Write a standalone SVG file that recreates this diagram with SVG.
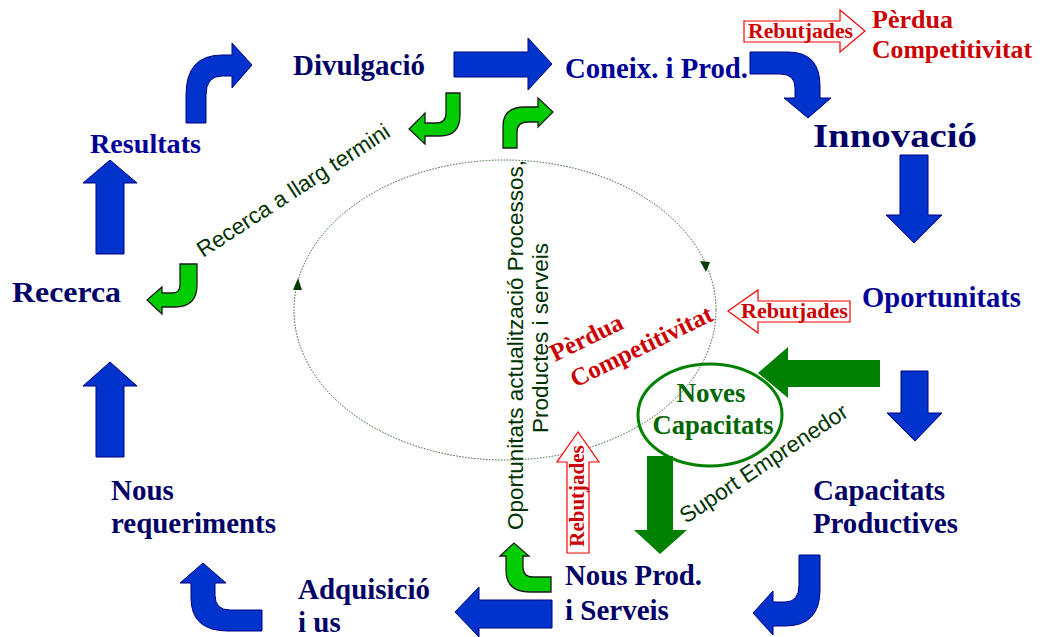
<svg xmlns="http://www.w3.org/2000/svg" width="1043" height="637" viewBox="0 0 1043 637">
<defs>
<style>
.lbl{font-family:"Liberation Serif","Times New Roman",serif;font-weight:bold;font-size:29px;fill:#000066}
.lblb{fill:#000099}
.red{font-family:"Liberation Serif","Times New Roman",serif;font-weight:bold;fill:#cc0000}
.gtx{font-family:"Liberation Sans",Arial,sans-serif;fill:#003300;font-size:22.5px}
.barrow{fill:#0033cc;stroke:#000080;stroke-width:1}
.garrow{fill:#00cc00;stroke:#1a1a1a;stroke-width:1.3}
.bgarrow{fill:#008000;stroke:none}
.hollow{fill:#ffffff;stroke:#ff0000;stroke-width:1.2}
.loop{fill:none;stroke:#2a5a2a;stroke-width:1;stroke-dasharray:1.5 1.5}
</style>
</defs>
<rect width="1043" height="637" fill="#ffffff"/>

<g id="connectors">
<ellipse class="loop" cx="505" cy="310" rx="211" ry="150"/>
<path d="M298,278 L293,290 L302,290 Z" fill="#0a3a0a"/>
<path d="M706,272 L700,261 L710,262 Z" fill="#0a3a0a"/>

<path class="barrow" d="M186,123 L186,95 Q186,55 222,55 L232,55 L232,43 L252,65 L232,88 L232,76 L222,76 Q206,76 206,95 L206,123 Z"/>
<path class="barrow" d="M454,52 L528,52 L528,38 L552,64 L528,90 L528,77 L454,77 Z"/>
<path class="barrow" d="M750,52 L788,52 Q820,52 820,86 L820,98 L831,98 L808,118 L784,98 L795,98 L795,88 Q795,74 780,74 L750,74 Z"/>
<path class="barrow" d="M900,155 L928,155 L928,215 L942,215 L914,243 L886,215 L900,215 Z"/>
<path class="barrow" d="M901,371 L928,371 L928,413 L942,413 L915,441 L887,413 L901,413 Z"/>
<path class="barrow" d="M799,555 L820,555 L820,590 Q820,626 785,626 L773,626 L773,635 L753,613 L773,591 L773,602 L785,602 Q799,602 799,585 Z"/>
<path class="barrow" d="M552,600 L479,600 L479,587 L455,612 L479,637 L479,628 L552,628 Z"/>
<path class="barrow" d="M262,610 L230,610 Q215,610 215,595 L215,583 L226,583 L203,563 L180,583 L191,583 L191,598 Q191,631 228,631 L262,631 Z"/>
<path class="barrow" d="M96,457 L124,457 L124,386 L137,386 L110,362 L83,386 L96,386 Z"/>
<path class="barrow" d="M96,254 L124,254 L124,183 L137,183 L110,160 L83,183 L96,183 Z"/>

<path class="garrow" d="M446,93 L460,93 L460,115 Q460,136 440,136 L425,136 L425,144 L409,129 L425,113 L425,123 L436,123 Q446,123 446,113 Z"/>
<path class="garrow" d="M503,148 L503,126 Q503,107 525,107 L538,107 L538,98 L553,112 L538,127 L538,122 L528,122 Q517,122 517,132 L517,148 Z"/>
<path class="garrow" d="M180,264 L197,264 L197,285 Q197,307 175,307 L162,307 L162,314 L147,300 L162,287 L162,293 L172,293 Q180,293 180,285 Z"/>
<path class="garrow" d="M551,577 L533,577 Q523,577 523,567 L523,556 L529,556 L514,543 L500,556 L506,556 L506,570 Q506,592 530,592 L551,592 Z"/>

<path class="bgarrow" d="M880,360 L788,360 L788,347 L758,373 L788,398 L788,387 L880,387 Z"/>
<path class="bgarrow" d="M647,456 L673,456 L673,530 L687,530 L660,554 L634,530 L647,530 Z"/>

<path class="hollow" d="M744,21 L840,21 L840,10 L865,31 L840,52 L840,42 L744,42 Z"/>
<path class="hollow" d="M850,301 L758,301 L758,290 L728,311 L758,333 L758,322 L850,322 Z"/>
<path class="hollow" d="M567,553 L589,553 L589,462 L599,462 L578,432 L557,462 L567,462 Z"/>
</g>

<g id="node-divulgacio"><text class="lbl" x="293" y="75" textLength="132" lengthAdjust="spacingAndGlyphs">Divulgació</text></g>
<g id="node-coneix"><text class="lbl lblb" x="565" y="78" textLength="183" lengthAdjust="spacingAndGlyphs">Coneix. i Prod.</text></g>
<g id="node-innovacio"><text class="lbl" x="813" y="147" style="font-size:33px" textLength="164" lengthAdjust="spacingAndGlyphs">Innovació</text></g>
<g id="node-resultats"><text class="lbl lblb" x="90" y="153" style="font-size:27px" textLength="111" lengthAdjust="spacingAndGlyphs">Resultats</text></g>
<g id="node-recerca"><text class="lbl" x="12" y="302" style="font-size:30px" textLength="109" lengthAdjust="spacingAndGlyphs">Recerca</text></g>
<g id="node-oportunitats"><text class="lbl lblb" x="862" y="307" textLength="159" lengthAdjust="spacingAndGlyphs">Oportunitats</text></g>
<g id="node-capacitats"><text class="lbl" x="813" y="500">Capacitats</text><text class="lbl" x="813" y="533" textLength="145" lengthAdjust="spacingAndGlyphs">Productives</text></g>
<g id="node-requeriments"><text class="lbl" x="111" y="500">Nous</text><text class="lbl" x="111" y="533" textLength="165" lengthAdjust="spacingAndGlyphs">requeriments</text></g>
<g id="node-adquisicio"><text class="lbl" x="298" y="599" textLength="132" lengthAdjust="spacingAndGlyphs">Adquisició</text><text class="lbl" x="298" y="632">i us</text></g>
<g id="node-nousprod"><text class="lbl" x="565" y="585" textLength="137" lengthAdjust="spacingAndGlyphs">Nous Prod.</text><text class="lbl" x="565" y="620">i Serveis</text></g>
<g id="node-noves">
<ellipse cx="710" cy="415" rx="72" ry="51" fill="none" stroke="#008000" stroke-width="3"/>
<text class="lbl" x="711" y="402" text-anchor="middle" style="font-size:27px;fill:#006600">Noves</text>
<text class="lbl" x="713" y="434" text-anchor="middle" style="font-size:27px;fill:#006600" textLength="121" lengthAdjust="spacingAndGlyphs">Capacitats</text>
</g>
<g id="node-perdua-top"><text class="red" x="872" y="28" style="font-size:26px">Pèrdua</text><text class="red" x="872" y="58" style="font-size:26px" textLength="160" lengthAdjust="spacingAndGlyphs">Competitivitat</text></g>
<g id="node-perdua-mid" transform="translate(555,362) rotate(-26)">
<text class="red" x="0" y="0" style="font-size:25px">Pèrdua</text>
<text class="red" x="7" y="32" style="font-size:25px" textLength="155" lengthAdjust="spacingAndGlyphs">Competitivitat</text>
</g>
<g id="labels">
<text class="red" x="748" y="38" style="font-size:21px" textLength="105" lengthAdjust="spacingAndGlyphs">Rebutjades</text>
<text class="red" x="741" y="318" style="font-size:21px" textLength="107" lengthAdjust="spacingAndGlyphs">Rebutjades</text>
<text class="red" transform="translate(584,496) rotate(-90)" text-anchor="middle" style="font-size:21px">Rebutjades</text>
<text class="gtx" transform="translate(203,258) rotate(-33)">Recerca a llarg termini</text>
<text class="gtx" transform="translate(686,524) rotate(-33.5)">Suport Emprenedor</text>
<text class="gtx" transform="translate(523,345) rotate(-90)" text-anchor="middle">Oportunitats actualització Processos,</text>
<text class="gtx" transform="translate(548,338) rotate(-90)" text-anchor="middle">Productes i serveis</text>
</g>
</svg>
